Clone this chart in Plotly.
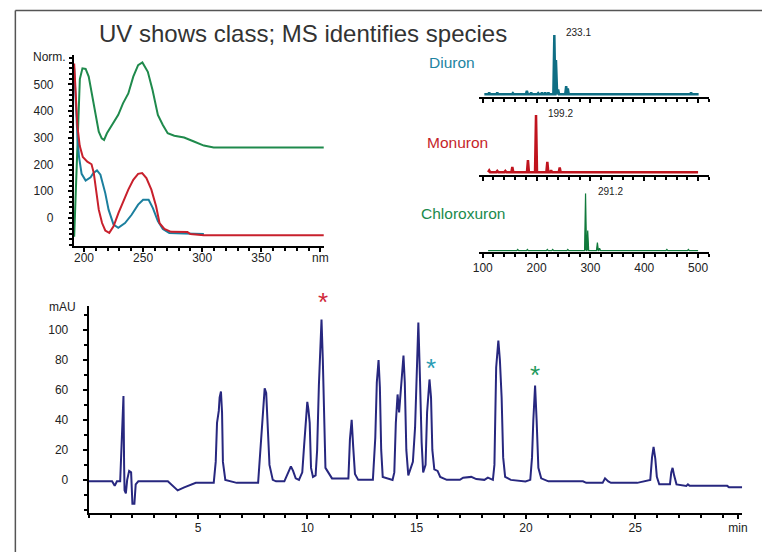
import plotly.graph_objects as go

W, H = 767, 552
FONT = "Liberation Sans, Arial, sans-serif"

# ---------------- UV spectra (nm, Norm.) ----------------
uv_green_nm = [191.7, 194.5, 196.5, 198.7, 201.4, 204, 207.5, 209.7, 212.5, 215, 217, 219.4, 223.6,
               229, 233, 237.5, 241.7, 245.8, 249.4, 254, 258, 262.5, 266.7, 270.8, 276.4, 284.7, 293,
               301.4, 309.7, 402.8]
uv_green = [-70, 290, 520, 560, 558, 529, 441, 379, 323, 298, 292, 317, 348,
            386, 429, 466, 529, 572, 582, 547, 479, 386, 348, 317, 308, 301, 286,
            271, 264, 264]

uv_blue_nm = [191.7, 193, 194.5, 195.8, 198, 201.4, 205.6, 208, 211, 213.9, 218, 220.8, 225, 229, 234.7,
              240.3, 245.8, 250, 254.7, 258.3, 262.5, 266.7, 272.2, 284.7, 301.4]
uv_blue = [560, 420, 300, 229, 165, 140, 152, 168, 178, 162, 93, 31, -25, -37, -19,
           12, 50, 68, 68, 37, -12, -41, -56, -58, -60]

uv_red_nm = [191.7, 193, 194.4, 196.4, 199, 202.8, 206.4, 208.3, 210.3, 212.5, 215.3, 218, 221.4, 225,
             229.2, 233.3, 237.5, 241.7, 245.8, 249.2, 252.8, 257, 261, 263.9, 268, 273.6, 287.5, 290,
             301.4, 402.8]
uv_red = [578, 450, 345, 270, 228, 211, 201, 168, 106, 31, -19, -47, -56, -31,
          19, 62, 106, 143, 165, 168, 149, 106, 44, -19, -41, -52, -53, -60,
          -65, -65]

uv_ticks = [200, 250, 300, 350, 400]
uv_ticktext = ["200", "250", "300", "350", "nm"]
uv_yticks = [0, 100, 200, 300, 400, 500]

# ---------------- MS spectra (m/z, relative intensity) ----------------
diuron_mz = [112, 127, 156, 182, 190, 203, 210, 216, 222, 233, 236, 240, 255, 258, 487]
diuron_int = [3, 3, 2, 6, 3, 2, 3, 3, 3, 100, 58, 8, 14, 10, 3]
monuron_mz = [112, 127, 142, 155, 184, 199, 220, 227, 243]
monuron_int = [3, 2, 2, 9, 21, 100, 18, 3, 8]
chlor_mz = [165, 183, 220, 230, 258, 291, 295, 313, 317, 442, 482]
chlor_int = [2, 2, 2, 2, 2, 100, 35, 14, 4, 2, 2]
ms_names = ["Diuron", "Monuron", "Chloroxuron"]
ms_labels = ["233.1", "199.2", "291.2"]
ms_ticks = [100, 200, 300, 400, 500]

# ---------------- Chromatogram (min, mAU) ----------------
chrom_t = [0.0, 1.07, 1.19, 1.29, 1.44, 1.52, 1.59, 1.62, 1.64, 1.70, 1.76, 1.85, 1.94, 2.0, 2.09, 2.15,
           2.27, 3.62, 3.84, 4.07, 4.37, 4.67, 4.9, 5.72, 5.81, 5.87, 5.95, 5.99, 6.05, 6.1, 6.14, 6.25,
           6.47, 6.77, 7.75, 7.85, 7.94, 8.05, 8.12, 8.2, 8.27, 8.42, 8.57, 8.95, 9.1, 9.25, 9.35, 9.47,
           9.62, 9.77, 9.85, 9.92, 10.0, 10.05, 10.11, 10.17, 10.26, 10.38, 10.45, 10.53, 10.6, 10.65,
           10.71, 10.77, 10.83, 11.13, 11.88, 11.95, 12.03, 12.1, 12.18, 12.33, 13.0, 13.11, 13.18, 13.26,
           13.32, 13.38, 13.45, 13.9, 13.98, 14.05, 14.13, 14.2, 14.28, 14.35, 14.4, 14.46, 14.53, 14.62,
           14.73, 14.83, 14.93, 15.0, 15.08, 15.15, 15.23, 15.3, 15.41, 15.48, 15.59, 15.66, 15.72, 15.81,
           15.96, 16.08, 16.38, 16.98, 17.13, 17.5, 17.73, 18.1, 18.26, 18.49, 18.56, 18.64, 18.74, 18.81,
           18.89, 18.96, 19.05, 19.31, 19.98, 20.2, 20.28, 20.34, 20.42, 20.49, 20.57, 20.7, 21.03, 22.61,
           22.76, 23.51, 23.62, 23.77, 23.89, 25.09, 25.69, 25.77, 25.84, 25.92, 25.99, 26.1, 26.59, 26.65,
           26.71, 26.78, 26.89, 27.34, 27.41, 27.49, 29.21, 29.29, 29.89]
chrom_v = [-1, -1, -4, -1, -1, 38, 56, 10, -7, -9, 0, 6, 5, -16, -16, -3,
           -1, -1, -4, -7, -5, -3, -2, -2, 12, 38, 46, 55, 59, 45, 12, 0,
           -1, -2, -2, 20, 42, 61, 58, 35, 10, 0, -1, -1, 4, 9, 6, 1,
           0, 5, 22, 35, 52, 47, 38, 8, 2, 3, 20, 63, 97, 107,
           80, 30, 8, 1, 1, 27, 40, 22, 4, 0, 0, 28, 65, 80,
           62, 20, 2, 0, 5, 38, 57, 45, 60, 70, 83, 65, 20, 3,
           8, 12, 35, 72, 105, 70, 25, 5, 10, 45, 67, 55, 20, 7,
           6, 2, 0, 0, 1.5, 2, 0.5, 0, 1.5, 0, 10, 75, 93, 80,
           55, 15, 2, 0, -1, 0, 15, 40, 63, 40, 8, 1, -1, -1,
           -2, -2, 1, -1, -2, -2, 0, 15, 22, 14, 2, -3, -3, 5,
           8, 3, -3, -4, -3, -4, -4, -5, -5]
chrom_xticks = [5, 10, 15, 20, 25, 29.7]
chrom_xtext = ["5", "10", "15", "20", "25", "min"]
chrom_yticks = [0, 20, 40, 60, 80, 100]
chrom_yrange = [-22.3, 116]
star_t = [10.72, 15.68, 20.42]
star_v = [122.8, 78.6, 74.3]
star_colors = ["#d0283a", "#2a9cb4", "#1f9a5c"]

UV_COLORS = {"green": "#1f8a4c", "blue": "#1b7f9e", "red": "#c8202c"}
MS_COLORS = ["#0f6e84", "#c0141e", "#117a3c"]
NAME_COLORS = ["#1d84a2", "#c51f2b", "#1a8a4c"]


def stick(mz, inten, lo, hi, hw=1.8):
    xs, ys = [lo], [0]
    for m, h in zip(mz, inten):
        xs += [m - hw, m, m + hw]
        ys += [0, h, 0]
    xs.append(hi)
    ys.append(0)
    return xs, ys


fig = go.Figure()

# UV traces
for nm, val, c in [(uv_green_nm, uv_green, "green"), (uv_blue_nm, uv_blue, "blue"), (uv_red_nm, uv_red, "red")]:
    fig.add_trace(go.Scatter(x=nm, y=val, mode="lines", line=dict(color=UV_COLORS[c], width=2),
                             xaxis="x", yaxis="y", showlegend=False, hoverinfo="skip"))

# MS traces
ms_sets = [(diuron_mz, diuron_int, 103, 501), (monuron_mz, monuron_int, 110, 500), (chlor_mz, chlor_int, 110, 500)]
for i, (mz, it, lo, hi) in enumerate(ms_sets):
    xs, ys = stick(mz, it, lo, hi)
    ax = str(i + 2)
    fig.add_trace(go.Scatter(x=xs, y=ys, mode="lines", fill="tozeroy", fillcolor=MS_COLORS[i],
                             line=dict(color=MS_COLORS[i], width=2.5 if i < 2 else 1.2),
                             xaxis="x" + ax, yaxis="y" + ax, showlegend=False, hoverinfo="skip"))
    peak = mz[it.index(max(it))]
    fig.add_annotation(x=peak, y=100, xref="x" + ax, yref="y" + ax, text=ms_labels[i],
                       showarrow=False, xanchor="left", yanchor="middle", xshift=10, yshift=2,
                       font=dict(family=FONT, size=10, color="#222"))

# Chromatogram
fig.add_trace(go.Scatter(x=chrom_t, y=chrom_v, mode="lines", line=dict(color="#27277f", width=2),
                         xaxis="x5", yaxis="y5", showlegend=False, hoverinfo="skip"))
# asterisks: positioned with the y5 domain reference so the one above the range is still drawn
for t, v, c in zip(star_t, star_v, star_colors):
    frac = (v - chrom_yrange[0]) / (chrom_yrange[1] - chrom_yrange[0])
    fig.add_annotation(x=t, y=frac, xref="x5", yref="y5 domain", text="*", showarrow=False,
                       xanchor="center", yanchor="middle", yshift=-6,
                       font=dict(family=FONT, size=26, color=c))


def fx(px):
    return px / W


def fy(py):
    return 1 - py / H


axis_common = dict(showline=True, linecolor="black", linewidth=2, showgrid=False, zeroline=False,
                   ticks="outside", tickcolor="black", ticklen=4, tickwidth=2,
                   tickfont=dict(family=FONT, size=12, color="#222"))

layout = dict(
    width=W, height=H, margin=dict(l=0, r=0, t=0, b=0),
    paper_bgcolor="white", plot_bgcolor="white", showlegend=False,
    xaxis=dict(axis_common, domain=[fx(68), fx(322)], range=[191.5, 403], anchor="y",
               tickmode="array", tickvals=uv_ticks, ticktext=uv_ticktext, ticklabelstandoff=-4,
               minor=dict(tickmode="linear", tick0=0, dtick=10, ticks="outside", ticklen=3, tickwidth=1.5,
                          tickcolor="black")),
    yaxis=dict(axis_common, domain=[fy(246), fy(55)], range=[-105, 610], anchor="x",
               tickmode="array", tickvals=uv_yticks, ticklabelstandoff=12,
               minor=dict(tickmode="linear", tick0=0, dtick=20, ticks="outside", ticklen=3, tickwidth=1.5,
                          tickcolor="black")),
    xaxis5=dict(axis_common, domain=[fx(83), fx(747)], range=[0, 29.9], anchor="y5",
                tickmode="array", tickvals=chrom_xticks, ticktext=chrom_xtext, ticklabelstandoff=-2,
                minor=dict(tickmode="linear", tick0=0, dtick=1, ticks="outside", ticklen=3, tickwidth=1.5,
                           tickcolor="black")),
    yaxis5=dict(axis_common, domain=[fy(513.3), fy(306)], range=chrom_yrange, anchor="x5",
                tickmode="array", tickvals=chrom_yticks, ticklabelstandoff=12,
                minor=dict(tickmode="linear", tick0=0, dtick=10, ticks="outside", ticklen=3, tickwidth=1.5,
                           tickcolor="black")),
)

ms_domains = [(97.3, 35, [-5, 100]), (175, 115, [-5, 100]), (251.7, 193.3, [-2, 100])]
for i, (bot, top, yr) in enumerate(ms_domains):
    k = str(i + 2)
    layout["xaxis" + k] = dict(axis_common, domain=[fx(480), fx(713)], range=[94, 520], anchor="y" + k,
                               tickmode="array", tickvals=ms_ticks, showticklabels=(i == 2),
                               ticklabelstandoff=0,
                               minor=dict(tickmode="linear", tick0=0, dtick=20, ticks="outside", ticklen=3,
                                          tickwidth=1.5, tickcolor="black"))
    layout["yaxis" + k] = dict(domain=[fy(bot), fy(top)], range=yr, anchor="x" + k, visible=False)

fig.update_layout(**layout)

# Compound names
name_pos = [(452, 62), (458, 142), (463, 213)]
for (x, y), n, c in zip(name_pos, ms_names, NAME_COLORS):
    fig.add_annotation(x=fx(x), y=fy(y), xref="paper", yref="paper", text=n, showarrow=False,
                       xanchor="center", yanchor="middle", font=dict(family=FONT, size=15.5, color=c))

# Axis unit labels
fig.add_annotation(x=fx(62), y=fy(57), xref="paper", yref="paper", text="Norm.", showarrow=False,
                   xanchor="right", yanchor="middle", font=dict(family=FONT, size=12, color="#222"))
fig.add_annotation(x=fx(72), y=fy(307), xref="paper", yref="paper", text="mAU", showarrow=False,
                   xanchor="right", yanchor="middle", font=dict(family=FONT, size=12, color="#222"))

# Title
fig.add_annotation(x=fx(301), y=fy(33), xref="paper", yref="paper",
                   text="UV shows class; MS identifies species", showarrow=False,
                   xanchor="center", yanchor="middle", font=dict(family=FONT, size=24, color="#333"))

# Frame
fig.add_shape(type="line", xref="paper", yref="paper", x0=fx(8.5), x1=1, y0=fy(10.5), y1=fy(10.5),
              line=dict(color="#555", width=1.5))
fig.add_shape(type="line", xref="paper", yref="paper", x0=fx(8.5), x1=fx(8.5), y0=0, y1=fy(10.5),
              line=dict(color="#555", width=1.5))

fig.write_html("out.html")
